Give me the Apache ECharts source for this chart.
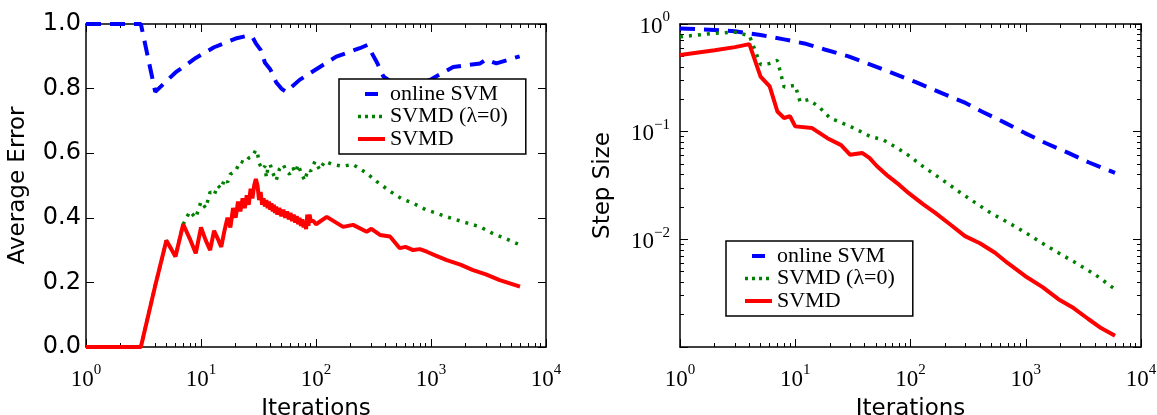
<!DOCTYPE html>
<html>
<head>
<meta charset="utf-8">
<script src="https://cdn.jsdelivr.net/npm/echarts@6/dist/echarts.min.js"></script>
<style>
  html, body { margin: 0; padding: 0; background: #fff; }
  #chart { width: 1157px; height: 415px; }
</style>
</head>
<body>
<div id="chart"></div>
<script>
// ---- left panel: average error vs iterations ----
const errOnlineIter = [1, 2, 3, 4, 6, 9, 13, 20, 25, 28, 30, 33, 36, 40, 45, 50, 55, 72, 108, 150, 240, 280, 340, 385, 500, 700, 980, 1560, 2680, 3000, 3700, 5900];
const errOnline = [1, 1, 1, 0.79, 0.85, 0.895, 0.928, 0.955, 0.963, 0.96, 0.94, 0.92, 0.88, 0.86, 0.82, 0.80, 0.79, 0.827, 0.867, 0.899, 0.925, 0.935, 0.88, 0.838, 0.81, 0.81, 0.827, 0.867, 0.878, 0.89, 0.878, 0.9];

const errNoRegIter = [1, 2, 3, 4, 5, 6, 7, 8, 9, 10, 11, 12, 13, 14, 15, 16, 17, 18, 20, 22, 24, 26, 28, 30, 31, 32, 34, 36, 37, 38, 40, 42, 45, 48, 52, 55, 59, 63, 66, 70, 74, 80, 85, 90, 98, 108, 119, 140, 170, 210, 276, 338, 450, 550, 700, 900, 1100, 1370, 1800, 2670, 3500, 4500, 5940];
const errNoReg = [0, 0, 0, 0.19, 0.33, 0.28, 0.38, 0.42, 0.40, 0.45, 0.43, 0.48, 0.47, 0.50, 0.49, 0.52, 0.51, 0.535, 0.545, 0.575, 0.57, 0.585, 0.59, 0.61, 0.60, 0.57, 0.55, 0.56, 0.525, 0.55, 0.565, 0.54, 0.515, 0.55, 0.565, 0.545, 0.535, 0.555, 0.54, 0.565, 0.54, 0.515, 0.55, 0.545, 0.575, 0.548, 0.575, 0.565, 0.56, 0.565, 0.538, 0.512, 0.48, 0.46, 0.445, 0.425, 0.415, 0.403, 0.39, 0.372, 0.35, 0.335, 0.316];

const errSvmdIter = [1, 2, 3, 4, 5, 6, 7, 8, 9, 10, 11, 12, 13, 14, 15, 16, 17, 18, 19, 20, 21, 22, 23, 24, 25, 26, 27, 28, 29, 30, 31, 32, 33, 34, 35, 36, 37, 38, 39, 40, 41, 42, 43, 44, 45, 46, 48, 50, 52, 54, 56, 58, 60, 62, 64, 66, 68, 70, 72, 74, 76, 78, 80, 82, 84, 86, 88, 90, 95, 100, 124, 172, 210, 276, 303, 360, 440, 535, 600, 700, 800, 920, 1100, 1370, 1800, 2320, 3000, 3960, 5940];
const errSvmd = [0, 0, 0, 0.19, 0.33, 0.28, 0.38, 0.335, 0.29, 0.37, 0.33, 0.30, 0.36, 0.335, 0.31, 0.36, 0.40, 0.37, 0.43, 0.40, 0.45, 0.42, 0.46, 0.43, 0.47, 0.44, 0.49, 0.46, 0.50, 0.52, 0.50, 0.455, 0.48, 0.44, 0.46, 0.435, 0.455, 0.43, 0.45, 0.425, 0.445, 0.42, 0.44, 0.415, 0.435, 0.41, 0.43, 0.405, 0.425, 0.40, 0.42, 0.395, 0.415, 0.39, 0.41, 0.385, 0.405, 0.38, 0.40, 0.375, 0.395, 0.37, 0.39, 0.365, 0.41, 0.375, 0.41, 0.39, 0.39, 0.38, 0.403, 0.372, 0.378, 0.357, 0.366, 0.347, 0.342, 0.306, 0.31, 0.30, 0.303, 0.295, 0.283, 0.269, 0.255, 0.238, 0.225, 0.207, 0.187];

// ---- right panel: step size vs iterations ----
const stepOnlineIter = [1, 2, 3, 5, 8, 12, 18, 29, 45, 70, 110, 187, 300, 415, 650, 985, 1500, 2340, 3500, 5950];
const stepOnline = [0.91, 0.88, 0.855, 0.79, 0.72, 0.66, 0.58, 0.50, 0.42, 0.35, 0.29, 0.228, 0.185, 0.154, 0.122, 0.097, 0.078, 0.0635, 0.052, 0.0414];

const stepNoRegIter = [1, 2, 3, 4, 5, 6, 7, 8, 9, 10, 11, 13, 16, 20, 30, 45, 58, 90, 130, 187, 260, 364, 500, 707, 1000, 1370, 2000, 2680, 4000, 5950];
const stepNoReg = [0.76, 0.82, 0.84, 0.78, 0.42, 0.43, 0.46, 0.26, 0.265, 0.27, 0.19, 0.198, 0.171, 0.134, 0.112, 0.09, 0.084, 0.0635, 0.047, 0.036, 0.028, 0.0219, 0.0175, 0.0143, 0.0115, 0.0093, 0.0073, 0.0061, 0.0047, 0.00344];

const stepSvmdIter = [1, 2, 3, 4, 5, 6, 7, 8, 9, 10, 14, 19, 25, 30, 38, 44, 51, 64, 80, 96, 130, 163, 220, 297, 400, 541, 700, 985, 1400, 1920, 2600, 3490, 4500, 5950];
const stepSvmd = [0.516, 0.57, 0.61, 0.65, 0.325, 0.263, 0.154, 0.134, 0.139, 0.112, 0.108, 0.087, 0.075, 0.061, 0.0635, 0.057, 0.048, 0.0386, 0.032, 0.027, 0.021, 0.0177, 0.0138, 0.0107, 0.0092, 0.0075, 0.006, 0.00457, 0.0036, 0.00278, 0.0023, 0.00182, 0.0015, 0.00127];

const seriesNames = ['online SVM', 'SVMD (\u03bb=0)', 'SVMD'];
const xTickLabels = ['0', '1', '2', '3', '4'];
const yLeftTickLabels = ['0.0', '0.2', '0.4', '0.6', '0.8', '1.0'];
const yRightTickLabels = ['', '\u22122', '\u22121', '0'];

const chart = echarts.init(document.getElementById('chart'));

// minor tick positions (log10 space)
const xMinor = [];
for (let d = 0; d < 4; d++) for (let k = 2; k < 10; k++) xMinor.push(d + Math.log10(k));
const yMinor = [];
for (let d = -3; d < 0; d++) for (let k = 2; k < 10; k++) yMinor.push(d + Math.log10(k));

const SERIF = 'Liberation Serif';
const SANS = 'DejaVu Sans';
const supRich = {
  b: {fontFamily: SERIF, fontSize: 23, lineHeight: 28, verticalAlign: 'bottom', color: '#000'},
  s: {fontFamily: SERIF, fontSize: 15, lineHeight: 12, verticalAlign: 'top', color: '#000'}
};
const powLabel = (txt) => txt === '' ? '' : '{b|10}{s|' + txt + '}';

function xAxisFor(grid, pos, minor, withLabels) {
  return {
    type: 'value', gridIndex: grid, position: pos, min: 0, max: 4, interval: 1,
    name: withLabels ? 'Iterations' : '', nameLocation: 'middle', nameGap: 51,
    nameTextStyle: {fontFamily: SANS, fontSize: 23, color: '#000'},
    axisLine: {show: !minor, onZero: false, lineStyle: {color: '#000', width: 1.5}},
    axisTick: minor
      ? {show: true, inside: true, length: 4, customValues: xMinor, lineStyle: {color: '#000', width: 1}}
      : {show: true, inside: true, length: 8, lineStyle: {color: '#000', width: 1}},
    axisLabel: withLabels
      ? {show: true, margin: 16, rich: supRich, formatter: (v) => powLabel(xTickLabels[Math.round(v)])}
      : {show: false},
    splitLine: {show: false}
  };
}

function yLogAxis(pos, minor, withLabels) {
  return {
    type: 'value', gridIndex: 1, position: pos, min: -3, max: 0, interval: 1,
    name: withLabels ? 'Step Size' : '', nameLocation: 'middle', nameGap: 65,
    nameTextStyle: {fontFamily: SANS, fontSize: 23, color: '#000'},
    axisLine: {show: !minor, onZero: false, lineStyle: {color: '#000', width: 1.5}},
    axisTick: minor
      ? {show: true, inside: true, length: 4, customValues: yMinor, lineStyle: {color: '#000', width: 1}}
      : {show: true, inside: true, length: 8, lineStyle: {color: '#000', width: 1}},
    axisLabel: withLabels
      ? {show: true, margin: 10, rich: supRich, formatter: (v) => powLabel(yRightTickLabels[Math.round(v) + 3])}
      : {show: false},
    splitLine: {show: false}
  };
}

function yLinAxis(pos, withLabels) {
  return {
    type: 'value', gridIndex: 0, position: pos, min: 0, max: 1, interval: 0.2,
    name: withLabels ? 'Average Error' : '', nameLocation: 'middle', nameGap: 56,
    nameTextStyle: {fontFamily: SANS, fontSize: 23, color: '#000'},
    axisLine: {show: true, onZero: false, lineStyle: {color: '#000', width: 1.5}},
    axisTick: {show: true, inside: true, length: 8, lineStyle: {color: '#000', width: 1}},
    axisLabel: withLabels
      ? {show: true, margin: 5, fontFamily: SANS, fontSize: 24, color: '#000',
         formatter: (v) => yLeftTickLabels[Math.round(v * 5)]}
      : {show: false},
    splitLine: {show: false}
  };
}

const styles = [
  {color: '#0000ff', width: 4, type: [15, 9]},
  {color: '#008000', width: 3.5, type: [3, 6]},
  {color: '#ff0000', width: 4, type: 'solid'}
];

function mkSeries(idx, iters, vals, xi, yi, logY) {
  return {
    name: seriesNames[idx], type: 'line', xAxisIndex: xi, yAxisIndex: yi,
    symbol: 'none', showSymbol: false, animation: false,
    lineStyle: styles[idx], itemStyle: {color: styles[idx].color},
    data: iters.map((t, i) => [Math.log10(t), logY ? Math.log10(vals[i]) : vals[i]]),
    z: idx === 2 ? 3 : 2
  };
}

function legendFor(left, top) {
  return {
    orient: 'vertical', left: left, top: top,
    itemWidth: 27, itemHeight: 14, itemGap: 0.5,
    itemStyle: {opacity: 0},
    padding: [4, 18, 4, 17],
    backgroundColor: '#fff', borderColor: '#000', borderWidth: 1.5, borderRadius: 0,
    textStyle: {fontFamily: SERIF, fontSize: 22, lineHeight: 22, color: '#000'},
    selectedMode: false,
    data: [
      {name: seriesNames[0], lineStyle: {width: 4, type: [0, 7, 13, 7]}},
      {name: seriesNames[1], lineStyle: {width: 3.5, type: [3, 4]}},
      {name: seriesNames[2], lineStyle: {width: 4}}
    ]
  };
}

chart.setOption({
  animation: false,
  backgroundColor: '#fff',
  grid: [
    {left: 86, right: 611, top: 24, bottom: 68, outerBoundsMode: 'none', containLabel: false},
    {left: 680, right: 16, top: 24, bottom: 68, outerBoundsMode: 'none', containLabel: false}
  ],
  legend: [legendFor(339, 79), legendFor(726, 241)],
  xAxis: [
    xAxisFor(0, 'bottom', false, true),
    xAxisFor(0, 'top', false, false),
    xAxisFor(0, 'bottom', true, false),
    xAxisFor(0, 'top', true, false),
    xAxisFor(1, 'bottom', false, true),
    xAxisFor(1, 'top', false, false),
    xAxisFor(1, 'bottom', true, false),
    xAxisFor(1, 'top', true, false)
  ],
  yAxis: [
    yLinAxis('left', true),
    yLinAxis('right', false),
    yLogAxis('left', false, true),
    yLogAxis('right', false, false),
    yLogAxis('left', true, false),
    yLogAxis('right', true, false)
  ],
  series: [
    mkSeries(0, errOnlineIter, errOnline, 0, 0, false),
    mkSeries(1, errNoRegIter, errNoReg, 0, 0, false),
    mkSeries(2, errSvmdIter, errSvmd, 0, 0, false),
    mkSeries(0, stepOnlineIter, stepOnline, 4, 2, true),
    mkSeries(1, stepNoRegIter, stepNoReg, 4, 2, true),
    mkSeries(2, stepSvmdIter, stepSvmd, 4, 2, true)
  ]
});
</script>
</body>
</html>
